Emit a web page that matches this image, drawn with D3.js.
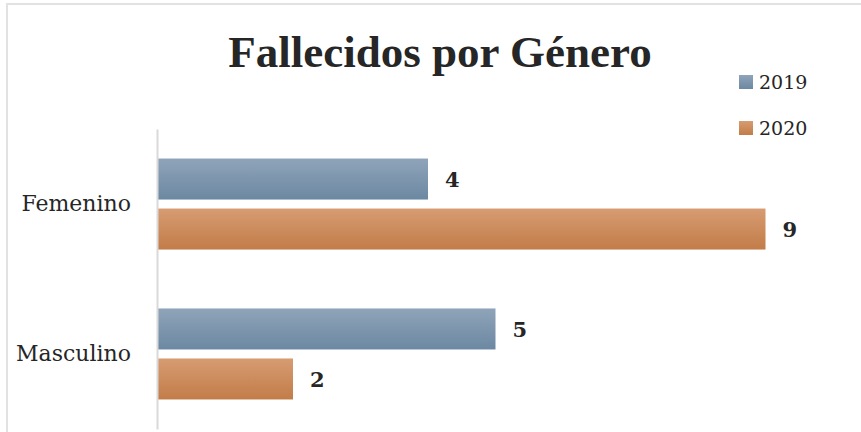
<!DOCTYPE html>
<html>
<head>
<meta charset="utf-8">
<script src="https://cdn.jsdelivr.net/npm/d3@7"></script>
<style>
  body { margin: 0; background: #fff; }
  text { fill: #262626; }
</style>
</head>
<body>
<svg id="chart" width="861" height="432"></svg>
<script>
'use strict';

// data
const categories = ['Femenino', 'Masculino'];
const years = ['2019', '2020'];
const values2019 = [4, 5];
const values2020 = [9, 2];
const title = 'Fallecidos por Género';

const rows = categories.map((c, i) => ({ category: c, values: { '2019': values2019[i], '2020': values2020[i] } }));

const svg = d3.select('#chart');
const width = 861, height = 432;
const serif = '"DejaVu Serif", serif';

const colors = {
  '2019': ['#8fa4b9', '#6c88a2'],
  '2020': ['#d79c72', '#c27c48']
};

const defs = svg.append('defs');
years.forEach(y => {
  const g = defs.append('linearGradient').attr('id', 'grad' + y)
    .attr('x1', 0).attr('y1', 0).attr('x2', 0).attr('y2', 1);
  g.append('stop').attr('offset', '0%').attr('stop-color', colors[y][0]);
  g.append('stop').attr('offset', '100%').attr('stop-color', colors[y][1]);
});

// chart border (only top and left visible in the crop)
svg.append('path')
  .attr('d', `M7,${height} V4 H${width}`)
  .attr('fill', 'none')
  .attr('stroke', '#e2e2e2')
  .attr('stroke-width', 2);

const plot = { left: 157, top: 129, bottom: 429 };

const x = d3.scaleLinear().domain([0, 10]).range([plot.left + 1, plot.left + 1 + 675]);
const y = d3.scaleBand().domain(categories).range([plot.top, plot.bottom])
  .paddingInner(0.393).paddingOuter(0.197);
const ySub = d3.scaleBand().domain(years).range([0, y.bandwidth()]).paddingInner(0.18);

// bars
const groups = svg.append('g').selectAll('g')
  .data(rows)
  .join('g')
  .attr('transform', d => `translate(0,${y(d.category)})`);

groups.selectAll('rect')
  .data(d => years.map(yr => ({ year: yr, value: d.values[yr] })))
  .join('rect')
  .attr('x', x(0))
  .attr('y', d => ySub(d.year))
  .attr('width', d => x(d.value) - x(0))
  .attr('height', ySub.bandwidth())
  .attr('fill', d => `url(#grad${d.year})`);

groups.selectAll('text.val')
  .data(d => years.map(yr => ({ year: yr, value: d.values[yr] })))
  .join('text')
  .attr('class', 'val')
  .attr('x', d => x(d.value) + 17)
  .attr('y', d => ySub(d.year) + ySub.bandwidth() / 2)
  .attr('dy', '0.36em')
  .style('font-family', serif)
  .style('font-size', '21px')
  .style('font-weight', 'bold')
  .text(d => d.value);

// vertical axis
const yAxis = svg.append('g')
  .attr('transform', `translate(${plot.left},0)`)
  .call(d3.axisLeft(y).tickSize(0).tickPadding(26));
yAxis.select('.domain').attr('stroke', '#d9d9d9').attr('stroke-width', 2);
yAxis.selectAll('text')
  .style('font-family', serif)
  .style('font-size', '22px')
  .attr('fill', '#262626');

// title
svg.append('text')
  .attr('x', 440)
  .attr('y', 67)
  .attr('text-anchor', 'middle')
  .style('font-family', '"Liberation Serif", serif')
  .style('font-size', '45px')
  .style('font-weight', 'bold')
  .text(title);

// legend
const legend = svg.append('g').attr('transform', 'translate(739,75)');
const li = legend.selectAll('g').data(years).join('g')
  .attr('transform', (d, i) => `translate(0,${i * 46})`);
li.append('rect').attr('width', 14).attr('height', 14)
  .attr('fill', d => `url(#grad${d})`);
li.append('text').attr('x', 20).attr('y', 14)
  .style('font-family', serif)
  .style('font-size', '19px')
  .text(d => d);
</script>
</body>
</html>
